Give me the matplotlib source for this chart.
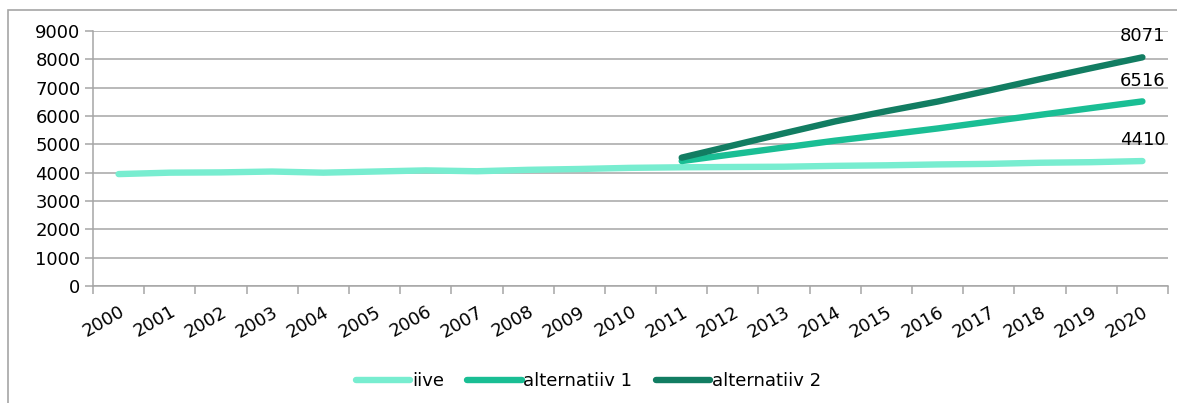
import numpy as np
import matplotlib.pyplot as plt
from matplotlib.patches import Rectangle

years = [str(y) for y in range(2000, 2021)]

# iive: whole period
iive = [3950, 4000, 4010, 4040, 4000, 4040, 4080, 4050, 4100, 4130, 4170,
        4190, 4200, 4210, 4240, 4260, 4290, 4310, 4350, 4370, 4410]
# alternatives start in 2011
alt_years = years[11:]
alt1 = [4410, 4650, 4890, 5130, 5340, 5560, 5800, 6040, 6280, 6516]
alt2 = [4530, 4960, 5390, 5810, 6170, 6510, 6900, 7300, 7690, 8071]

c_iive = '#78EDD0'
c_alt1 = '#1ABE94'
c_alt2 = '#127D62'
grid_c = '#A6A6A6'

fig = plt.figure(figsize=(11.77, 4.03), dpi=100)
ax = fig.add_axes([93 / 1177, 1 - 286 / 403, (1168 - 93) / 1177, (286 - 31) / 403])

# outer chart frame (right and bottom edges fall outside the picture)
fig.patches.append(Rectangle((8 / 1177, -0.05), 1.1, 1.05 - 10 / 403,
                             transform=fig.transFigure, fill=False,
                             edgecolor='#A6A6A6', linewidth=1.2))

x_all = np.arange(len(years))
x_alt = x_all[11:]

ax.plot(x_all, iive, color=c_iive, linewidth=4.6, solid_capstyle='round', label='iive', zorder=3)
ax.plot(x_alt, alt1, color=c_alt1, linewidth=4.6, solid_capstyle='round', label='alternatiiv 1', zorder=4)
ax.plot(x_alt, alt2, color=c_alt2, linewidth=4.6, solid_capstyle='round', label='alternatiiv 2', zorder=5)

# end labels
for vals in (iive, alt1, alt2):
    ax.annotate(str(vals[-1]), (x_all[-1], vals[-1]), xytext=(0, 15),
                textcoords='offset points', ha='center', va='center', fontsize=13)

ax.set_xlim(-0.5, len(years) - 0.5)
ax.set_ylim(0, 9000)
ax.set_yticks(range(0, 9001, 1000))
ax.yaxis.grid(True, color=grid_c, linewidth=1.1)
ax.set_axisbelow(True)

ax.set_xticks(x_all)
ax.set_xticklabels(years, rotation=30, ha='right', rotation_mode='anchor', fontsize=13)
ax.set_xticks(np.arange(-0.5, len(years), 1), minor=True)
ax.tick_params(axis='x', which='major', length=0, pad=12)
ax.tick_params(axis='x', which='minor', length=6, color=grid_c, width=1.1)
ax.tick_params(axis='y', length=6, color=grid_c, width=1.1, labelsize=13, pad=3)

for s in ('top', 'right'):
    ax.spines[s].set_visible(False)
for s in ('left', 'bottom'):
    ax.spines[s].set_color(grid_c)
    ax.spines[s].set_linewidth(1.1)

fig.legend(loc='center', bbox_to_anchor=(0.5, 1 - 381 / 403), ncol=3, frameon=False,
           fontsize=13, handlelength=3.0, handletextpad=0.1, columnspacing=1.3)

fig.savefig('out.png', dpi=100)
